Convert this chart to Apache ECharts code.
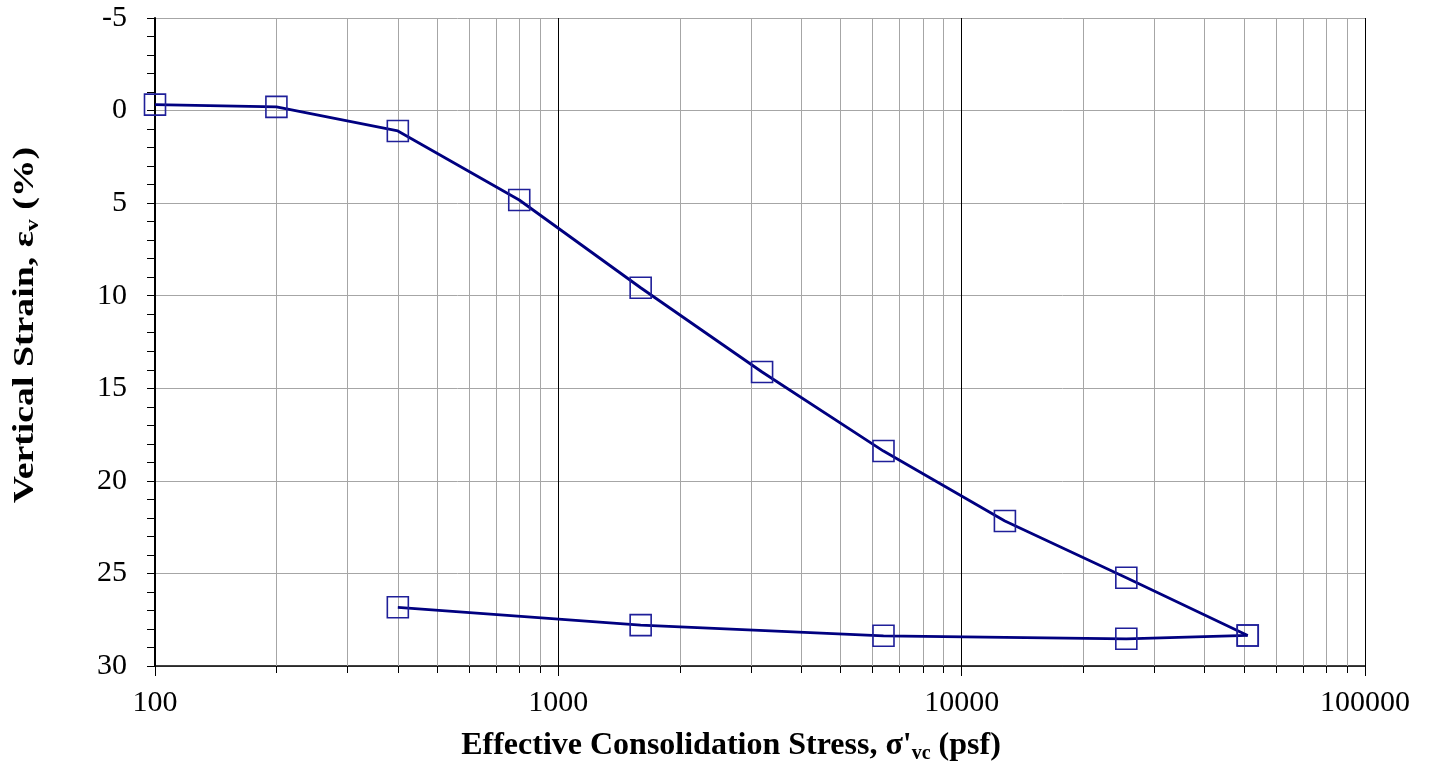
<!DOCTYPE html>
<html>
<head>
<meta charset="utf-8">
<script src="https://cdn.jsdelivr.net/npm/echarts@6/dist/echarts.min.js"></script>
<style>
html,body{margin:0;padding:0;background:#fff;}
#chart{width:1431px;height:766px;}
</style>
</head>
<body>
<div id="chart"></div>
<script>
// Loading branch
const stressLoad = [100, 200, 400, 800, 1600, 3200, 6400, 12800, 25600, 51200];
const strainLoad = [-0.32, -0.2, 1.1, 4.83, 9.57, 14.12, 18.39, 22.17, 25.23, 28.35];
// Unloading branch
const stressUnload = [51200, 25600, 6400, 1600, 400];
const strainUnload = [28.35, 28.53, 28.37, 27.79, 26.83];
// Minor log grid positions
const minorStress = [200, 300, 400, 500, 600, 700, 800, 900,
  2000, 3000, 4000, 5000, 6000, 7000, 8000, 9000,
  20000, 30000, 40000, 50000, 60000, 70000, 80000, 90000];
const xMin = 100, xMax = 100000;
const yMin = -5, yMax = 30, yStep = 5;

const lineColor = '#000080';
const markerColor = '#1f1f99';
const font = 'Liberation Serif';

const chart = echarts.init(document.getElementById('chart'), null, {renderer: 'canvas'});

const pairs = (xs, ys) => xs.map((x, i) => [x, ys[i]]);

const seriesStyle = {
  type: 'line',
  symbol: 'rect',
  symbolSize: 21,
  showAllSymbol: true,
  lineStyle: {color: lineColor, width: 2.8},
  itemStyle: {color: 'rgba(0,0,0,0)', borderColor: markerColor, borderWidth: 1.6},
  emphasis: {disabled: true},
  animation: false,
  z: 3
};

chart.setOption({
  animation: false,
  backgroundColor: '#fff',
  grid: {left: 155, right: 66, top: 18, bottom: 100, containLabel: false, outerBoundsMode: 'none'},
  graphic: [{
    type: 'text',
    x: 25,
    y: 325,
    rotation: Math.PI / 2,
    scaleX: 1.26,
    silent: true,
    style: {
      text: '{a|Vertical Strain, ε}{s|v}{a| (%)}',
      align: 'center',
      verticalAlign: 'middle',
      rich: {
        a: {fontFamily: font, fontSize: 30, fontWeight: 'bold', fill: '#000'},
        s: {fontFamily: font, fontSize: 19, fontWeight: 'bold', fill: '#000', padding: [16, 0, 0, 0]}
      }
    }
  }],
  xAxis: {
    type: 'log',
    logBase: 10,
    min: xMin,
    max: xMax,
    name: '{a|Effective Consolidation Stress, σ\'}{s|vc}{a| (psf)}',
    nameLocation: 'middle',
    nameGap: 62,
    nameTextStyle: {
      padding: [0, 58, 0, 0],
      rich: {
        a: {fontFamily: font, fontSize: 32, fontWeight: 'bold', color: '#000'},
        s: {fontFamily: font, fontSize: 20, fontWeight: 'bold', color: '#000', padding: [16, 0, 0, 0]}
      }
    },
    axisLine: {show: true, onZero: false, lineStyle: {color: '#000', width: 1.5}},
    axisTick: {show: true, inside: false, length: 10, lineStyle: {color: '#000', width: 1}},
    axisLabel: {fontFamily: font, fontSize: 30, color: '#000', margin: 22,
      formatter: v => String(Math.round(v))},
    splitLine: {show: true, lineStyle: {color: '#000', width: 1}},
    minorTick: {show: false},
    minorSplitLine: {show: false}
  },
  yAxis: {
    type: 'value',
    inverse: true,
    min: yMin,
    max: yMax,
    interval: yStep,
    axisLine: {show: true, onZero: false, lineStyle: {color: '#000', width: 2}},
    axisTick: {show: true, inside: false, length: 8, lineStyle: {color: '#000', width: 1}},
    minorTick: {show: true, splitNumber: 5, length: 8, lineStyle: {color: '#000', width: 1}},
    axisLabel: {fontFamily: font, fontSize: 30, color: '#000', margin: 28},
    splitLine: {show: true, lineStyle: {color: '#a6a6a6', width: 1}}
  },
  series: [
    {
      type: 'custom',
      clip: false,
      silent: true,
      z: 1,
      animation: false,
      data: minorStress.map(v => [v, 0]),
      renderItem: function (params, api) {
        const v = api.value(0);
        const top = api.coord([v, yMin]);
        const bot = api.coord([v, yMax]);
        const x = Math.round(top[0]) + 0.5;
        return {
          type: 'group',
          children: [
            {type: 'line', shape: {x1: x, y1: top[1], x2: x, y2: bot[1]}, style: {stroke: '#a6a6a6', lineWidth: 1}},
            {type: 'line', shape: {x1: x, y1: bot[1], x2: x, y2: bot[1] + 7}, style: {stroke: '#000', lineWidth: 1}}
          ]
        };
      }
    },
    Object.assign({}, seriesStyle, {name: 'Loading', data: pairs(stressLoad, strainLoad)}),
    Object.assign({}, seriesStyle, {name: 'Unloading', data: pairs(stressUnload, strainUnload)})
  ]
});
</script>
</body>
</html>
